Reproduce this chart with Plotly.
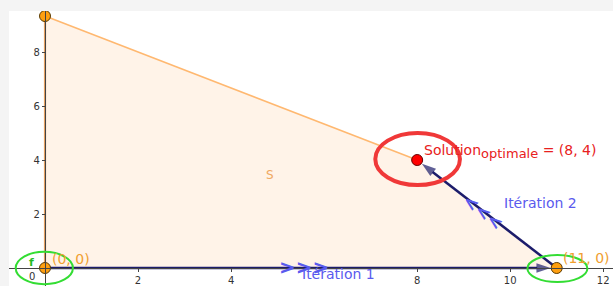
import plotly.graph_objects as go

# Data
region_x = [0, 11, 8, 0, 0]
region_y = [0, 0, 4, 28/3, 0]
vertices_x = [0, 11, 0]
vertices_y = [0, 0, 28/3]
iter1_x = [0, 11]
iter1_y = [0, 0]
iter2_x = [11, 8]
iter2_y = [0, 4]
optimum = (8, 4)
x_ticks = [2, 4, 8, 10, 12]
y_ticks = [2, 4, 6, 8]

NAVY = "#1c1c6b"
BLUE = "#5a5aee"
GREEN = "#33dd33"
RED = "#e82020"
BG = "#f4f4f4"

fig = go.Figure()

# feasible region S
fig.add_trace(go.Scatter(x=region_x, y=region_y, fill="toself", mode="none",
                         fillcolor="rgba(255,200,150,0.22)", hoverinfo="skip"))
# left edge
fig.add_trace(go.Scatter(x=[region_x[3], region_x[0]], y=[region_y[3], region_y[0]], mode="lines",
                         line=dict(color="#e6a060", width=2.2), hoverinfo="skip"))
# top edge
fig.add_trace(go.Scatter(x=[region_x[3], region_x[2]], y=[region_y[3], region_y[2]], mode="lines",
                         line=dict(color="#ffb870", width=1.5), hoverinfo="skip"))
# iterations (with arrowheads at the end)
for xs, ys in ((iter1_x, iter1_y), (iter2_x, iter2_y)):
    fig.add_trace(go.Scatter(x=xs, y=ys, mode="lines+markers", line=dict(color=NAVY, width=2.5),
                             marker=dict(symbol="arrow", angleref="previous", size=[0, 15],
                                         color=NAVY, standoff=6, line=dict(width=0)),
                             hoverinfo="skip"))

# optimum red dot
fig.add_trace(go.Scatter(x=[optimum[0]], y=[optimum[1]], mode="markers",
                         marker=dict(color="#ff0000", size=11, line=dict(color="#660000", width=1)), hoverinfo="skip"))
# vertices
fig.add_trace(go.Scatter(x=vertices_x, y=vertices_y, mode="markers",
                         marker=dict(color="#ff9f10", size=11, line=dict(color="#5a3a00", width=1)), hoverinfo="skip"))

shapes = [
    dict(type="circle", xref="x", yref="y", x0=-0.63, x1=0.6, y0=-0.6, y1=0.6,
         line=dict(color=GREEN, width=2)),
    dict(type="circle", xref="x", yref="y", x0=10.37, x1=11.66, y0=-0.52, y1=0.48,
         line=dict(color=GREEN, width=2)),
    dict(type="circle", xref="x", yref="y", x0=7.1, x1=8.92, y0=3.07, y1=5.0,
         line=dict(color="#f03838", width=4)),
]

annotations = [
    # chevrons
    dict(x=5.57, y=0, xref="x", yref="y", text="<b>&gt;&gt;&gt;</b>", showarrow=False,
         font=dict(color=BLUE, size=20, family="DejaVu Sans"), yshift=1),
    dict(x=9.42, y=2.1, xref="x", yref="y", text="<b>&lt;&lt;&lt;</b>", showarrow=False, textangle=38,
         font=dict(color=BLUE, size=18, family="DejaVu Sans")),
    # labels
    dict(x=5.48, y=-0.22, xref="x", yref="y", xanchor="left", text="Itération 1", showarrow=False,
         font=dict(color=BLUE, size=14, family="DejaVu Sans")),
    dict(x=9.83, y=2.4, xref="x", yref="y", xanchor="left", text="Itération 2", showarrow=False,
         font=dict(color=BLUE, size=14, family="DejaVu Sans")),
    dict(x=8.1, y=4.3, xref="x", yref="y", xanchor="left",
         text="Solution<sub><span style='font-size:13px'>optimale</span></sub> = (8, 4)",
         showarrow=False, font=dict(color=RED, size=14, family="DejaVu Sans")),
    dict(x=0.1, y=0.33, xref="x", yref="y", xanchor="left", text="(0, 0)", showarrow=False,
         font=dict(color="#f0a030", size=14, family="DejaVu Sans")),
    dict(x=11.1, y=0.37, xref="x", yref="y", xanchor="left", text="(11, 0)", showarrow=False,
         font=dict(color="#f0a030", size=14, family="DejaVu Sans")),
    dict(x=-0.28, y=0.22, xref="x", yref="y", text="<b>f</b>", showarrow=False,
         font=dict(color="#22bb22", size=11, family="DejaVu Sans")),
    dict(x=4.84, y=3.44, xref="x", yref="y", text="S", showarrow=False,
         font=dict(color="#f0a860", size=12, family="DejaVu Sans")),
    dict(x=-0.28, y=-0.3, xref="x", yref="y", text="0", showarrow=False,
         font=dict(color="#333333", size=10, family="DejaVu Sans")),
]

fig.update_layout(
    width=613, height=286,
    margin=dict(l=9, r=0, t=11, b=0, autoexpand=False),
    paper_bgcolor=BG,
    plot_bgcolor="#ffffff",
    showlegend=False,
    shapes=shapes,
    annotations=annotations,
    xaxis=dict(range=[-0.774, 12.21], tickvals=x_ticks, showgrid=False,
               zeroline=False, showline=True, linecolor="#444444", linewidth=1, anchor="free",
               position=0.0655, ticks="outside", ticklen=3, tickcolor="#444444", automargin=False,
               tickfont=dict(size=10, color="#333333", family="DejaVu Sans"), fixedrange=True),
    yaxis=dict(range=[-0.667, 9.52], tickvals=y_ticks, showgrid=False, zeroline=False,
               showline=True, linecolor="#444444", linewidth=1, anchor="free", position=0.0596,
               ticks="outside", ticklen=3, tickcolor="#444444", automargin=False,
               tickfont=dict(size=10, color="#333333", family="DejaVu Sans"), fixedrange=True),
)

fig.write_html("out.html", config={"displayModeBar": False},
               post_script="document.body.style.margin='0px';document.body.style.overflow='hidden';")
